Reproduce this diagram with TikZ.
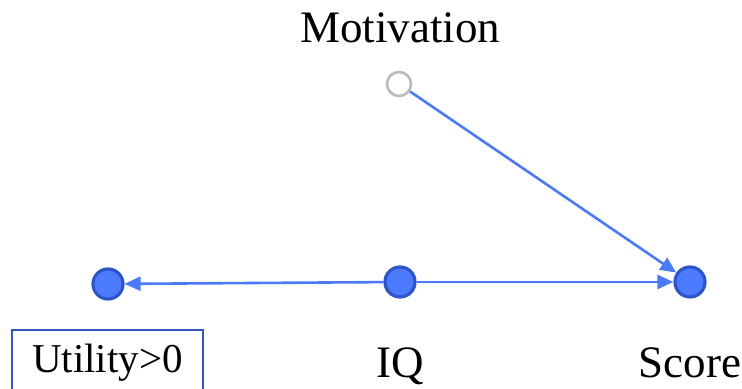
\documentclass[tikz,border=0pt]{standalone}
\usepackage{fontspec}
\setmainfont{Liberation Serif}
\usepackage{tikz}
\usetikzlibrary{arrows.meta,positioning}
\definecolor{edgeblue}{HTML}{4A7AF5}
\definecolor{nodefill}{HTML}{4D7BFF}
\definecolor{nodeline}{HTML}{2C56C8}
\definecolor{boxline}{HTML}{3456BE}
\tikzset{
  observed/.style={circle,draw=nodeline,fill=nodefill,line width=1.6bp,
    minimum size=15bp,inner sep=0pt},
  latent/.style={circle,draw=black!27,line width=1.3bp,
    minimum size=12bp,inner sep=0pt},
  varname/.style={font=\fontsize{22.5bp}{27bp}\selectfont,inner sep=0pt,anchor=base},
  utilbox/.style={draw=boxline,line width=1.4bp,minimum width=95.5bp,
    minimum height=33bp,font=\fontsize{20.5bp}{24bp}\selectfont},
  link/.style={-{Triangle[length=8bp,width=7bp]},draw=edgeblue,
    fill=edgeblue,line width=1.3bp}
}
\begin{document}
\begin{tikzpicture}[x=0.5bp,y=0.5bp]
  \useasboundingbox (0,0) rectangle (742,389);
  % graph nodes
  \node[latent] (motiv) at (399,305) {};
  \node[observed] (util) at (108,105) {};
  \node[observed] (iq) at (400,107) {};
  \node[observed] (score) at (690,107) {};
  % names
  \node[varname] (motivname) at (400,346) {Motivation};
  \node[varname] (iqname) at (400,11) {IQ};
  \node[varname] (scorename) at (690,11) {Score};
  \node[utilbox] (utilname) at (107.5,26) {Utility>0};
  % edges
  \draw[link] (motiv) -- (score);
  \draw[link] (iq) -- (util);
  \draw[link] (iq) -- (score);
\end{tikzpicture}
\end{document}
